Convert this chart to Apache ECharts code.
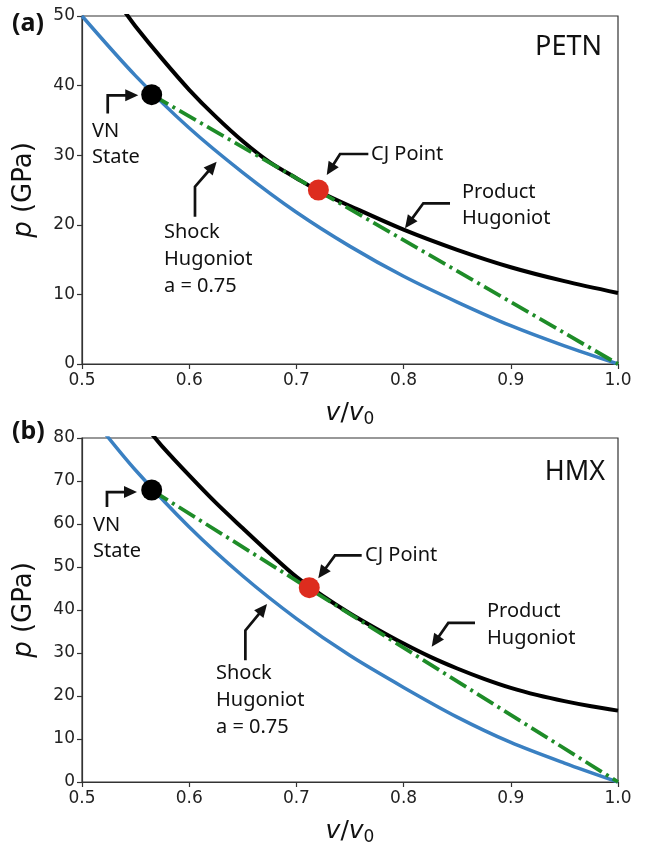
<!DOCTYPE html>
<html>
<head>
<meta charset="utf-8">
<script src="https://cdn.jsdelivr.net/npm/echarts@6/dist/echarts.min.js"></script>
<style>
  html, body { margin: 0; padding: 0; background: #fff; }
  #chart { width: 646px; height: 847px; }
</style>
</head>
<body>
<div id="chart"></div>
<script>
// ---- Panel (a): PETN ----
const vShockA = [0.50, 0.55, 0.60, 0.65, 0.70, 0.75, 0.80, 0.85, 0.90, 0.95, 1.00];
const pShockA = [50.0, 41.4, 33.9, 27.5, 21.8, 16.9, 12.6, 8.9, 5.5, 2.6, 0.0];
const vProdA = [0.54, 0.55, 0.575, 0.60, 0.625, 0.65, 0.675, 0.70, 0.725, 0.75, 0.80, 0.85, 0.90, 0.95, 1.00];
const pProdA = [50.6, 48.5, 43.8, 39.4, 35.5, 32.0, 29.0, 26.7, 24.5, 22.7, 19.3, 16.4, 13.9, 11.9, 10.2];
const vnA = [0.565, 38.7];
const cjA = [0.7205, 25.0];
const rayleighEndA = [1.0, 0.0];

// ---- Panel (b): HMX ----
const vShockB = [0.52, 0.55, 0.60, 0.65, 0.70, 0.75, 0.80, 0.85, 0.90, 0.95, 1.00];
const pShockB = [81.5, 72.5, 59.3, 47.9, 38.0, 29.4, 22.0, 15.1, 9.2, 4.4, 0.0];
const vProdB = [0.565, 0.575, 0.60, 0.625, 0.65, 0.675, 0.70, 0.725, 0.75, 0.775, 0.80, 0.825, 0.85, 0.875, 0.90, 0.925, 0.95, 0.975, 1.00];
const pProdB = [81.0, 78.0, 71.3, 64.9, 59.0, 53.2, 47.7, 43.2, 39.2, 35.6, 32.2, 29.1, 26.4, 24.0, 21.9, 20.2, 18.8, 17.6, 16.6];
const vnB = [0.565, 67.9];
const cjB = [0.712, 45.2];
const rayleighEndB = [1.0, 0.0];

// Axis ranges and tick steps
const xRange = [0.5, 1.0];
const xStep = 0.1;
const yRangeA = [0, 50];
const yRangeB = [0, 80];
const yStep = 10;

// Panel titles and annotation texts
const panelTags = ['(a)', '(b)'];
const materials = ['PETN', 'HMX'];
const vnText = 'VN\nState';
const shockText = 'Shock\nHugoniot\na = 0.75';
const cjText = 'CJ Point';
const prodText = 'Product\nHugoniot';

// Annotation anchors (v/v0, p) per panel
const notesA = {
  title: [0.985, 45.5],
  vn: [0.5093, 35.34], shock: [0.5765, 20.9], cj: [0.7696, 30.1], prod: [0.8545, 26.6],
  arrows: [
    [[0.524, 36.0], [0.524, 38.6], [0.5525, 38.6]],
    [[0.6054, 21.16], [0.6054, 25.47], [0.6256, 29.07]],
    [[0.7671, 30.17], [0.7407, 30.17], [0.7283, 27.16]],
    [[0.8433, 23.09], [0.8184, 23.09], [0.8013, 19.5]]
  ]
};
const notesB = {
  title: [0.988, 71.95],
  vn: [0.5103, 62.76], shock: [0.625, 28.4], cj: [0.764, 52.64], prod: [0.8778, 42.76],
  arrows: [
    [[0.5233, 63.98], [0.5233, 67.43], [0.5513, 67.43]],
    [[0.6524, 28.34], [0.6524, 35.24], [0.6726, 41.38]],
    [[0.7609, 52.71], [0.736, 52.71], [0.7204, 47.36]],
    [[0.8666, 37.01], [0.8417, 37.01], [0.8262, 31.43]]
  ]
};

const BLUE = '#3a80c2', GREEN = '#1e8c28', RED = '#dd2c1e', INK = '#111';
const FRAME = '#333';
const TICK_FONT = 'DejaVu Sans';
const NOTE_FONT = 'Noto Sans';

const zip = (xs, ys) => xs.map((x, i) => [x, ys[i]]);

const grids = [
  { left: 82, top: 16, width: 536, height: 348 },
  { left: 82, top: 438, width: 536, height: 348 }
].map(g => Object.assign(g, { show: true, borderColor: FRAME, borderWidth: 1.2, backgroundColor: 'transparent' }));

function xAxisFor(i) {
  return {
    gridIndex: i, type: 'value', min: xRange[0], max: xRange[1], interval: xStep,
    name: '{i|v}/{i|v}{s|0}', nameLocation: 'middle', nameGap: 34,
    nameTextStyle: {
      fontFamily: TICK_FONT, fontSize: 25, color: INK, verticalAlign: 'top',
      rich: {
        i: { fontFamily: TICK_FONT, fontStyle: 'italic', fontSize: 25, color: INK, lineHeight: 30 },
        s: { fontFamily: TICK_FONT, fontSize: 17, color: INK, lineHeight: 17, verticalAlign: 'bottom' }
      }
    },
    axisLine: { show: true, lineStyle: { color: FRAME, width: 1.2 } },
    axisTick: { show: true, inside: false, length: 5, lineStyle: { color: FRAME, width: 1.2 } },
    axisLabel: { margin: 8, fontFamily: TICK_FONT, fontSize: 17, color: '#222', formatter: v => v.toFixed(1) },
    splitLine: { show: false }
  };
}
function yAxisFor(i, range) {
  return {
    gridIndex: i, type: 'value', min: range[0], max: range[1], interval: yStep,
    name: '{i|p} (GPa)', nameLocation: 'middle', nameGap: 45, nameRotate: 90,
    nameTextStyle: {
      fontFamily: TICK_FONT, fontSize: 26, color: INK,
      rich: { i: { fontFamily: TICK_FONT, fontStyle: 'italic', fontSize: 26, color: INK } }
    },
    axisLine: { show: true, lineStyle: { color: FRAME, width: 1.2 } },
    axisTick: { show: true, inside: false, length: 5, lineStyle: { color: FRAME, width: 1.2 } },
    axisLabel: { margin: 7, fontFamily: TICK_FONT, fontSize: 17, color: '#222' },
    splitLine: { show: false }
  };
}

function panelSeries(i, vS, pS, vP, pP, vn, cj, endPt) {
  return [
    { type: 'line', xAxisIndex: i, yAxisIndex: i, data: zip(vS, pS), smooth: 0.3,
      showSymbol: false, lineStyle: { color: BLUE, width: 3.5 }, clip: true, z: 2 },
    { type: 'line', xAxisIndex: i, yAxisIndex: i, data: zip(vP, pP), smooth: 0.3,
      showSymbol: false, lineStyle: { color: '#000', width: 4 }, clip: true, z: 3 },
    { type: 'line', xAxisIndex: i, yAxisIndex: i, data: [vn, endPt], showSymbol: false,
      lineStyle: { color: GREEN, width: 3.8, type: [19, 5, 3, 5], cap: 'butt' }, clip: true, z: 4 },
    { type: 'scatter', xAxisIndex: i, yAxisIndex: i, data: [vn], symbolSize: 21,
      itemStyle: { color: '#000', opacity: 1 }, z: 5 },
    { type: 'scatter', xAxisIndex: i, yAxisIndex: i, data: [cj], symbolSize: 21,
      itemStyle: { color: RED, opacity: 1 }, z: 5 }
  ];
}

const chart = echarts.init(document.getElementById('chart'), null, { renderer: 'canvas' });
chart.setOption({
  animation: false,
  backgroundColor: '#fff',
  grid: grids,
  xAxis: [xAxisFor(0), xAxisFor(1)],
  yAxis: [yAxisFor(0, yRangeA), yAxisFor(1, yRangeB)],
  series: [
    ...panelSeries(0, vShockA, pShockA, vProdA, pProdA, vnA, cjA, rayleighEndA),
    ...panelSeries(1, vShockB, pShockB, vProdB, pProdB, vnB, cjB, rayleighEndB)
  ]
});

// Annotations: texts and bent arrows placed in data space of each grid
function toPx(gi, pt) { return chart.convertToPixel({ gridIndex: gi }, pt); }

function arrowShapes(gi, pts) {
  const px = pts.map(p => toPx(gi, p));
  const a = px[px.length - 2], b = px[px.length - 1];
  const dx = b[0] - a[0], dy = b[1] - a[1];
  const len = Math.hypot(dx, dy), ux = dx / len, uy = dy / len;
  const hl = 13, hw = 6;
  const base = [b[0] - ux * hl, b[1] - uy * hl];
  const shaft = px.slice(0, -1).concat([[b[0] - ux * (hl - 2), b[1] - uy * (hl - 2)]]);
  return [
    { type: 'polyline', silent: true, z: 10, shape: { points: shaft },
      style: { stroke: INK, lineWidth: 2.7, fill: null, lineJoin: 'miter' } },
    { type: 'polygon', silent: true, z: 10,
      shape: { points: [b, [base[0] - uy * hw, base[1] + ux * hw], [base[0] + uy * hw, base[1] - ux * hw]] },
      style: { fill: INK } }
  ];
}

function noteText(gi, pt, text, lh, vAlign) {
  const p = toPx(gi, pt);
  return { type: 'text', silent: true, z: 10, x: p[0], y: p[1],
    style: { text: text, fill: INK, fontFamily: NOTE_FONT, fontSize: 20, lineHeight: lh,
      align: 'left', verticalAlign: vAlign } };
}

function panelGraphics(gi, notes, title) {
  const t = toPx(gi, notes.title);
  const els = [
    { type: 'text', silent: true, z: 10, x: t[0], y: t[1],
      style: { text: title, fill: INK, fontFamily: NOTE_FONT, fontSize: 27, align: 'right', verticalAlign: 'middle' } },
    noteText(gi, notes.vn, vnText, 26, 'top'),
    noteText(gi, notes.shock, shockText, 27, 'top'),
    noteText(gi, notes.cj, cjText, 26, 'middle'),
    noteText(gi, notes.prod, prodText, 26.5, 'top')
  ];
  notes.arrows.forEach(a => els.push(...arrowShapes(gi, a)));
  return els;
}

// Panel letters sit beside the top-left corner of each grid
function tag(gi, label, dy) {
  const corner = toPx(gi, [xRange[0], gi === 0 ? yRangeA[1] : yRangeB[1]]);
  return { type: 'text', silent: true, z: 10, x: 12, y: corner[1] + dy,
    style: { text: label, fill: INK, fontFamily: NOTE_FONT, fontWeight: 'bold', fontSize: 25,
      align: 'left', verticalAlign: 'middle' } };
}

chart.setOption({
  graphic: [
    ...panelGraphics(0, notesA, materials[0]),
    ...panelGraphics(1, notesB, materials[1]),
    tag(0, panelTags[0], 8),
    tag(1, panelTags[1], -6)
  ]
});
</script>
</body>
</html>
